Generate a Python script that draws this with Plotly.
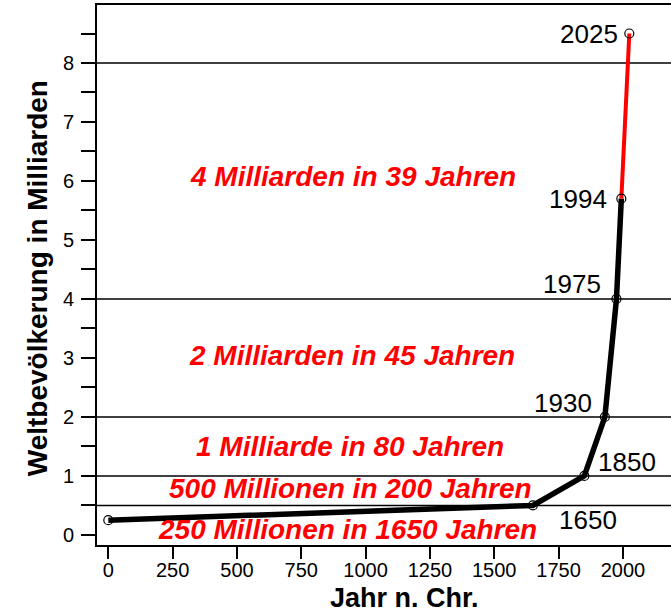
import plotly.graph_objects as go

years = [0, 1650, 1850, 1930, 1975, 1994, 2025]
population = [0.25, 0.5, 1.0, 2.0, 4.0, 5.7, 8.5]
labelled_years = [1650, 1850, 1930, 1975, 1994, 2025]
ref_lines = [0.5, 1, 2, 4, 8]
x_ticks = [0, 250, 500, 750, 1000, 1250, 1500, 1750, 2000]
y_ticks = [0, 0.5, 1, 1.5, 2, 2.5, 3, 3.5, 4, 4.5, 5, 5.5, 6, 6.5, 7, 7.5, 8, 8.5]
y_ticktext = ["0", "", "1", "", "2", "", "3", "", "4", "", "5", "", "6", "", "7", "", "8", ""]
growth_texts = ["4 Milliarden in 39 Jahren", "2 Milliarden in 45 Jahren",
                "1 Milliarde in 80 Jahren", "500 Millionen in 200 Jahren",
                "250 Millionen in 1650 Jahren"]
growth_x = [951, 947, 940, 942, 928]
growth_y = [6.07, 3.05, 1.50, 0.79, 0.09]
x_title = "Jahr n. Chr."
y_title = "Weltbevölkerung in Milliarden"

FONT = "Liberation Sans, Arial, sans-serif"

fig = go.Figure()

split = years.index(1994)
fig.add_trace(go.Scatter(x=years[:split + 1], y=population[:split + 1], mode="lines",
                         line=dict(color="black", width=5.5), showlegend=False, hoverinfo="skip"))
fig.add_trace(go.Scatter(x=years[split:], y=population[split:], mode="lines",
                         line=dict(color="#ff0000", width=4), showlegend=False, hoverinfo="skip"))
fig.add_trace(go.Scatter(x=years, y=population, mode="markers",
                         marker=dict(symbol="circle-open", size=9, color="black",
                                     line=dict(width=1.2, color="black")),
                         showlegend=False, hoverinfo="skip"))

for v in ref_lines:
    fig.add_shape(type="line", xref="paper", x0=0, x1=1, yref="y", y0=v, y1=v,
                  line=dict(color="black", width=1.5), layer="below")

# year labels: (anchor, xshift, yshift)
label_style = {
    1650: ("left", 24, -15),
    1850: ("left", 12, 14),
    1930: ("right", -11, 14),
    1975: ("right", -13, 15),
    1994: ("right", -12, 0),
    2025: ("right", -9, 0),
}
for yr in labelled_years:
    i = years.index(yr)
    anc, xs, ys = label_style[yr]
    fig.add_annotation(x=yr, y=population[i], text=str(yr), showarrow=False,
                       xanchor=anc, yanchor="middle", xshift=xs, yshift=ys,
                       font=dict(family=FONT, size=26, color="black"))

for t, gx, gy in zip(growth_texts, growth_x, growth_y):
    fig.add_annotation(x=gx, y=gy, text="<b><i>" + t + "</i></b>", showarrow=False,
                       xanchor="center", yanchor="middle",
                       font=dict(family=FONT, size=28, color="#ff0000"))

fig.add_annotation(xref="paper", yref="paper", x=0.535, y=-0.099, text="<b>" + x_title + "</b>",
                   showarrow=False, xanchor="center", yanchor="middle",
                   font=dict(family=FONT, size=27, color="black"))
fig.add_annotation(xref="paper", yref="paper", x=-0.1045, y=0.494, text="<b>" + y_title + "</b>",
                   showarrow=False, xanchor="center", yanchor="middle", textangle=-90,
                   font=dict(family=FONT, size=28, color="black"))

fig.update_layout(
    width=671, height=612,
    margin=dict(l=97, r=0, t=5, b=67, autoexpand=False),
    paper_bgcolor="white", plot_bgcolor="white",
    font=dict(family=FONT, color="black"),
    xaxis=dict(range=[-44, 2187], tickvals=x_ticks, ticks="outside", ticklen=12,
               tickwidth=1.5, tickcolor="black", showgrid=False, zeroline=False,
               showline=True, linecolor="black", linewidth=2, mirror=True, automargin=False,
               ticklabelstandoff=-6, tickfont=dict(size=20, family=FONT)),
    yaxis=dict(range=[-0.17, 8.983], tickvals=y_ticks, ticktext=y_ticktext, ticks="outside",
               ticklen=14, tickwidth=1.5, tickcolor="black", showgrid=False, zeroline=False,
               showline=True, linecolor="black", linewidth=2, automargin=False,
               ticklabelstandoff=3, tickfont=dict(size=20, family=FONT)),
)

fig.write_html("out.html", config={"displayModeBar": False},
               post_script="document.body.style.margin='0';document.body.style.overflow='hidden';")
